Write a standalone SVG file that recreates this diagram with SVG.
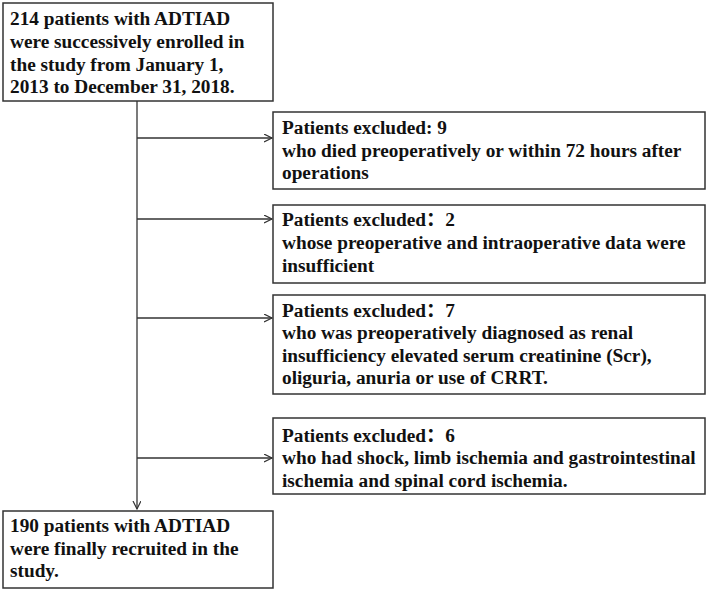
<svg xmlns="http://www.w3.org/2000/svg" width="708" height="590" viewBox="0 0 708 590">
<style>
.box{fill:#fff;stroke:#333;stroke-width:1.5}
.t{font-family:'Liberation Serif','Times New Roman',serif;font-weight:bold;font-size:19.3px;fill:#111}
.c{fill:none;stroke:#333;stroke-width:1.3}
</style>
<defs>
<marker id="ah" markerUnits="userSpaceOnUse" markerWidth="10" markerHeight="10" refX="8" refY="4" orient="auto">
<path d="M0,0 L8,4 L0,8" fill="none" stroke="#333" stroke-width="1.2"/>
</marker>
</defs>
<rect width="708" height="590" fill="#fff"/>
<g id="connectors">
<path class="c" d="M137,101 V509" marker-end="url(#ah)"/>
<path class="c" d="M137,138 H272" marker-end="url(#ah)"/>
<path class="c" d="M137,219 H272" marker-end="url(#ah)"/>
<path class="c" d="M137,318 H272" marker-end="url(#ah)"/>
<path class="c" d="M137,458 H272" marker-end="url(#ah)"/>
</g>
<g id="start">
<rect class="box" x="3" y="3" width="270" height="98"/>
<text class="t" x="10" y="25">214 patients with ADTIAD</text>
<text class="t" x="10" y="48">were successively enrolled in</text>
<text class="t" x="10" y="71">the study from January 1,</text>
<text class="t" x="10" y="93">2013 to December 31, 2018.</text>
</g>
<g id="excl1">
<rect class="box" x="273" y="112" width="432" height="77"/>
<text class="t" x="282" y="134">Patients excluded: 9</text>
<text class="t" x="282" y="157">who died preoperatively or within 72 hours after</text>
<text class="t" x="282" y="179">operations</text>
</g>
<g id="excl2">
<rect class="box" x="273" y="205" width="432" height="78"/>
<text class="t" x="282" y="226">Patients excluded<tspan font-family="'Noto Sans CJK SC',sans-serif">：</tspan>2</text>
<text class="t" x="282" y="249">whose preoperative and intraoperative data were</text>
<text class="t" x="282" y="272">insufficient</text>
</g>
<g id="excl3">
<rect class="box" x="273" y="295" width="432" height="99"/>
<text class="t" x="282" y="317">Patients excluded<tspan font-family="'Noto Sans CJK SC',sans-serif">：</tspan>7</text>
<text class="t" x="282" y="339">who was preoperatively diagnosed as renal</text>
<text class="t" x="282" y="362">insufficiency elevated serum creatinine (Scr),</text>
<text class="t" x="282" y="384">oliguria, anuria or use of CRRT.</text>
</g>
<g id="excl4">
<rect class="box" x="273" y="418" width="432" height="76"/>
<text class="t" x="282" y="442">Patients excluded<tspan font-family="'Noto Sans CJK SC',sans-serif">：</tspan>6</text>
<text class="t" x="282" y="464">who had shock, limb ischemia and gastrointestinal</text>
<text class="t" x="282" y="487">ischemia and spinal cord ischemia.</text>
</g>
<g id="final">
<rect class="box" x="3" y="511" width="270" height="77"/>
<text class="t" x="10" y="532">190 patients with ADTIAD</text>
<text class="t" x="10" y="555">were finally recruited in the</text>
<text class="t" x="10" y="577">study.</text>
</g>
</svg>
